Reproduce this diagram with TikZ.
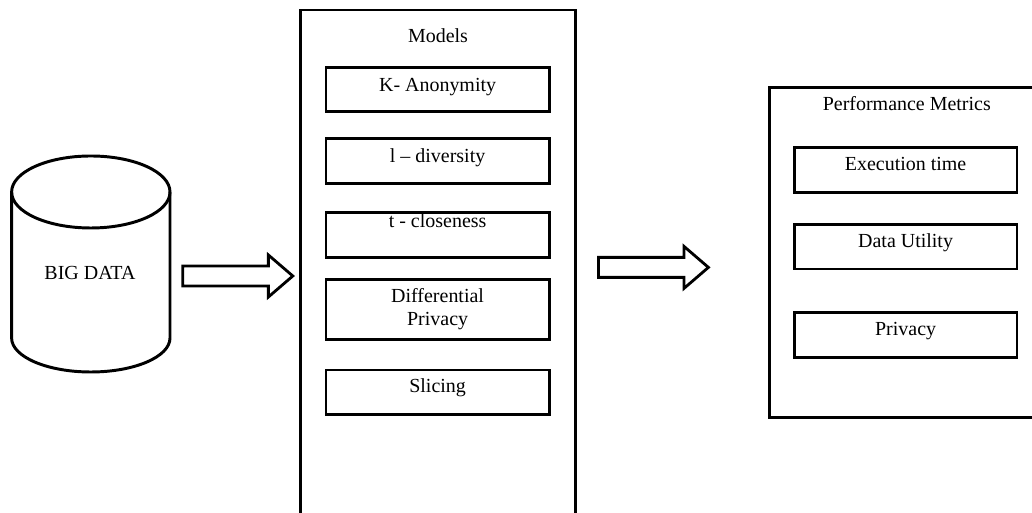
\documentclass[tikz,border=0pt]{standalone}
\usepackage{fontspec}
\setmainfont{Liberation Serif}

\begin{document}
\begin{tikzpicture}[
    every node/.style={font=\fontsize{14.2}{16.2}\selectfont},
    outerbox/.style={line width=1.9pt},
    itembox/.style 2 args={draw, line width=2.1pt, minimum width=5.58cm, inner sep=0pt,
      text height=#1, text depth=#2},
    metricbox/.style={draw, line width=2.1pt, minimum width=5.57cm, inner sep=0pt,
      text height=0.575cm, text depth=0.545cm},
    blockarrow/.style={line width=2pt, line join=miter}
  ]
    \useasboundingbox (0,0) rectangle (25.8,12.825);
    \clip (0,0) rectangle (25.8,12.825);

    % Data store on the left
    \draw[line width=2.1pt] (0.29,8.025) -- (0.29,4.375) arc (180:360:1.98 and 0.85) -- (4.25,8.025);
    \draw[line width=2.1pt] (2.27,8.025) ellipse (1.98 and 0.9);
    \node[anchor=base] (bigdata) at (2.25,5.825) {BIG DATA};

    % Block arrows between the stages
    \foreach \x/\y in {4.57/5.925, 14.96/6.14}
      \draw[blockarrow, shift={(\x,\y)}] (0,-0.25) -- (2.14,-0.25) -- (2.14,-0.525) -- (2.75,0)
        -- (2.14,0.525) -- (2.14,0.25) -- (0,0.25) -- cycle;

    % Models column, runs off the bottom
    \draw[outerbox] (7.52,-0.5) rectangle (14.39,12.575);
    \node[anchor=base] (models) at (10.95,11.75) {Models};
    \node[itembox={0.6cm}{0.5cm}] (kanon) at (10.94,10.58) {K- Anonymity};
    \node[itembox={0.58cm}{0.545cm}] (ldiv) at (10.94,8.79) {l – diversity};
    \node[itembox={0.375cm}{0.75cm}] (tclose) at (10.94,6.945) {t - closeness};
    \node[draw, line width=2.1pt, minimum width=5.58cm, minimum height=1.5cm, inner sep=0pt,
      align=center] (diffpriv) at (10.94,5.09) {Differential\\Privacy};
    \node[itembox={0.57cm}{0.54cm}] (slicing) at (10.94,3.02) {Slicing};

    % Performance metrics, runs off the right side
    \draw[outerbox] (19.23,2.39) rectangle (26.5,10.64);
    \node[anchor=base] (perf) at (22.67,10.06) {Performance Metrics};
    \foreach \name/\y/\txt in {exectime/8.575/Execution time, datautil/6.66/Data Utility, privacy/4.45/Privacy}
      \node[metricbox] (\name) at (22.64,\y) {\txt};
\end{tikzpicture}
\end{document}
